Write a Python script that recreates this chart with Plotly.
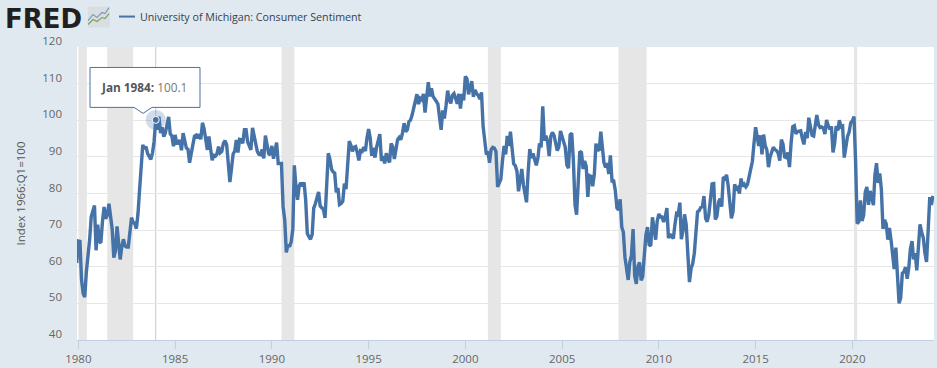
import pandas as pd
import plotly.graph_objects as go

W, H = 937, 368
SERIES_NAME = "University of Michigan: Consumer Sentiment"
Y_TITLE = "Index 1966:Q1=100"
START_MONTH = "1979-12-01"
SENTIMENT = [
    61.0,
    67.0,66.9,56.5,52.7,51.7,58.7,62.3,67.3,73.7,75.0,76.7,64.5,
    71.5,66.9,66.5,72.4,76.3,73.1,74.1,77.2,73.1,70.3,62.5,64.3,
    71.0,66.5,62.0,65.5,67.5,65.7,65.4,65.4,69.3,73.4,72.1,71.9,
    70.4,74.6,80.8,89.1,93.3,92.2,92.8,90.9,89.9,89.3,91.1,94.2,
    100.1,97.4,101.0,96.5,98.1,95.5,96.6,99.1,100.9,96.3,95.7,92.9,
    96.0,93.7,93.7,94.6,91.8,96.5,94.0,92.4,92.1,88.4,90.9,93.9,
    95.6,95.9,95.1,96.2,94.8,99.3,97.7,94.9,91.9,95.6,91.4,89.1,
    90.4,90.2,90.8,92.8,91.1,91.5,93.7,94.4,93.3,89.1,83.1,86.8,
    90.8,91.6,94.6,91.2,94.8,94.7,93.7,97.4,97.4,94.1,93.0,91.9,
    97.9,95.4,94.3,91.5,90.7,90.6,92.0,89.6,95.8,93.9,90.9,90.5,
    93.0,89.5,91.3,93.9,88.2,88.3,88.2,76.4,72.8,63.9,66.0,65.5,
    66.8,70.4,87.7,81.8,78.3,82.1,82.9,82.0,83.0,78.3,69.1,68.2,
    67.5,68.8,76.0,77.2,79.2,80.4,76.6,76.1,75.6,73.3,85.3,91.0,
    89.3,86.6,85.9,85.6,80.3,81.5,77.0,77.3,77.9,82.7,81.2,88.2,
    94.3,93.2,91.5,92.6,92.8,91.2,89.0,91.7,91.5,92.7,91.6,95.1,
    97.6,95.1,90.3,92.5,89.8,92.7,94.4,96.2,88.9,90.2,88.2,91.0,
    89.3,88.5,93.7,92.7,89.4,92.4,94.7,95.3,94.7,96.5,99.2,96.9,
    97.4,99.7,100.0,101.4,103.2,104.5,107.1,104.4,106.0,105.6,107.2,102.1,
    106.6,110.4,106.5,108.7,106.5,105.6,105.2,104.4,100.9,97.4,102.7,100.5,
    103.9,108.1,105.7,104.6,106.8,107.3,106.0,104.5,107.2,103.2,107.2,105.4,
    112.0,111.3,107.1,109.2,110.7,106.4,108.3,107.3,106.8,105.8,107.6,98.4,
    94.7,90.6,91.5,88.4,92.0,92.6,92.4,91.5,81.8,82.7,83.9,88.8,
    93.0,90.7,95.7,93.0,96.9,92.4,88.1,87.6,86.1,80.6,84.2,86.7,
    82.4,79.9,77.6,86.0,92.1,89.7,90.9,89.3,87.7,89.6,93.7,92.6,
    103.8,94.4,95.8,94.2,90.2,95.6,96.7,95.9,94.2,91.7,92.8,97.1,
    95.5,94.1,92.6,87.7,86.9,96.0,96.5,89.1,76.9,74.2,81.6,91.5,
    91.2,86.7,88.9,87.4,79.1,84.9,84.7,82.0,85.4,93.6,92.1,91.7,
    96.9,91.3,88.4,87.1,88.3,85.3,90.4,83.4,83.4,80.9,76.1,75.5,
    78.4,70.8,69.5,62.6,59.8,56.4,61.2,63.0,70.3,57.6,55.3,60.1,
    61.2,56.3,57.3,65.1,68.7,70.8,66.0,65.7,73.5,70.6,67.4,72.5,
    74.4,73.6,73.6,72.2,73.6,76.0,67.8,68.9,68.2,67.7,71.6,74.5,
    74.2,77.5,67.5,69.8,74.3,71.5,63.7,55.8,59.5,60.8,63.7,69.9,
    75.0,75.3,76.2,76.4,79.3,73.2,72.3,74.3,78.3,82.6,82.7,72.9,
    73.8,77.6,78.6,76.4,84.5,84.1,85.1,82.1,77.5,73.2,75.1,82.5,
    81.2,81.6,80.0,84.1,81.9,82.5,81.8,82.5,84.6,86.9,88.8,93.6,
    98.1,95.4,93.0,95.9,90.7,96.1,93.1,91.9,87.2,90.0,91.3,92.6,
    92.0,91.7,91.0,89.0,94.7,93.5,90.0,89.8,91.2,87.2,93.8,98.2,
    98.5,96.3,96.9,97.0,97.1,95.0,93.4,96.8,95.1,100.7,98.5,95.9,
    95.7,99.7,101.4,98.8,98.0,98.2,97.9,96.2,100.1,98.6,97.5,98.3,
    91.2,93.8,98.4,97.2,100.0,98.2,98.4,89.8,93.2,95.5,96.8,99.3,
    99.8,101.0,89.1,71.8,72.3,78.1,72.5,74.1,80.4,81.8,76.9,80.7,
    79.0,76.8,84.9,88.3,82.9,85.5,81.2,70.3,72.8,71.7,67.4,70.6,
    67.2,62.8,59.4,65.2,58.4,50.0,51.5,58.2,58.6,59.9,56.7,59.7,
    64.9,67.0,62.0,63.7,59.0,64.2,71.6,69.4,67.9,63.8,61.3,69.7,
    79.0,76.9,79.4,
]
RECESSIONS = [
    ("1980-01-05", "1980-06-10"), ("1981-07-01", "1982-11-01"),
    ("1990-07-01", "1991-03-01"), ("2001-03-01", "2001-11-01"),
    ("2007-12-01", "2009-05-15"), ("2020-02-01", "2020-04-01"),
]
HILITE_DATE = "1984-01-01"
HILITE_VALUE = 100.1
HILITE_LABEL = "Jan 1984"
Y_TICKS = [40, 50, 60, 70, 80, 90, 100, 110, 120]
X_TICKS = ["1980-01-01", "1985-01-01", "1990-01-01", "1995-01-01", "2000-01-01",
           "2005-01-01", "2010-01-01", "2015-01-01", "2020-01-01"]

dates = pd.date_range(START_MONTH, periods=len(SENTIMENT), freq="MS")
BG, BLUE, GRID, TXT = "#e1e9f0", "#4572a7", "#e6e6e6", "#666666"
FONT = "Open Sans"

L, R, T, B = 77, 934, 46.5, 340
def px(x): return (x - L) / (R - L)
def py(y): return (B - y) / (B - T)
def path(pts): return "M" + " L".join(f"{px(x):.5f},{py(y):.5f}" for x, y in pts)

fig = go.Figure()
fig.add_trace(go.Scatter(x=dates, y=SENTIMENT, mode="lines", name=SERIES_NAME, showlegend=False,
                         line=dict(color=BLUE, width=3.4, shape="linear"), hoverinfo="skip"))
fig.add_trace(go.Scatter(x=[HILITE_DATE], y=[HILITE_VALUE], mode="markers", showlegend=False,
                         marker=dict(size=20, color="rgba(69,114,167,0.25)"), hoverinfo="skip"))
fig.add_trace(go.Scatter(x=[HILITE_DATE], y=[HILITE_VALUE], mode="markers", showlegend=False,
                         marker=dict(size=7, color=BLUE, line=dict(color="white", width=1)), hoverinfo="skip"))

shapes = [dict(type="rect", xref="x", yref="paper", x0=a, x1=b, y0=0, y1=1,
               fillcolor=GRID, line_width=0, layer="below") for a, b in RECESSIONS]
shapes.append(dict(type="line", xref="x", yref="paper", x0=HILITE_DATE, x1=HILITE_DATE, y0=0, y1=1,
                   line=dict(color="#c8c8c8", width=1), layer="below"))
# tooltip box and pointer
shapes.append(dict(type="path", xref="paper", yref="paper", layer="above",
                   path=path([(90, 67), (200, 67), (200, 107), (152, 107), (143, 113), (134, 107), (90, 107)]) + " Z",
                   fillcolor="white", line=dict(color=BLUE, width=1)))
# legend swatch
shapes.append(dict(type="line", xref="paper", yref="paper", layer="above",
                   x0=px(119), x1=px(135), y0=py(16), y1=py(16), line=dict(color=BLUE, width=2)))
# FRED logo icon
shapes.append(dict(type="rect", xref="paper", yref="paper", layer="above",
                   x0=px(88), x1=px(110), y0=py(27), y1=py(6), fillcolor="#d9dee2", line_width=0))
shapes.append(dict(type="path", xref="paper", yref="paper", layer="above",
                   path=path([(88, 20), (93, 14), (97, 17), (102, 12), (105, 13), (109, 7)]),
                   line=dict(color="#7d9db8", width=1.2)))
shapes.append(dict(type="path", xref="paper", yref="paper", layer="above",
                   path=path([(88, 24), (93, 19), (97, 21), (102, 17), (105, 18), (109, 13)]),
                   line=dict(color="#7fa05a", width=1.2)))

annotations = [
    dict(xref="paper", yref="paper", x=px(143.5), y=py(87), xanchor="center", yanchor="middle",
         showarrow=False, text=f"<b>{HILITE_LABEL}:</b> <span style='color:#777777'>{HILITE_VALUE}</span>",
         font=dict(family=FONT, size=11.8, color="#555555")),
    dict(xref="paper", yref="paper", x=px(3), y=py(18), xanchor="left", yanchor="middle",
         showarrow=False, text="<b>FRED</b>",
         font=dict(family="DejaVu Sans", size=26, color="#231f20")),
    dict(xref="paper", yref="paper", x=px(138), y=py(16.5), xanchor="left", yanchor="middle",
         showarrow=False, text=SERIES_NAME,
         font=dict(family=FONT, size=10.7, color="#33424f")),
]

fig.update_layout(
    width=W, height=H, autosize=False,
    paper_bgcolor=BG, plot_bgcolor="white",
    margin=dict(l=L, r=W - R, t=T, b=H - B, pad=0),
    font=dict(family=FONT, size=12, color=TXT),
    showlegend=False,
    shapes=shapes, annotations=annotations,
    hovermode=False,
    xaxis=dict(range=["1979-12-07", "2024-03-21"], tickvals=X_TICKS, tickformat="%Y",
               ticks="outside", ticklen=8, tickwidth=1, tickcolor="#c0d0e0",
               showgrid=False, showline=True, linecolor="#c0d0e0", linewidth=1, zeroline=False,
               tickfont=dict(family=FONT, size=11.5, color=TXT)),
    yaxis=dict(range=[40, 120], tickvals=Y_TICKS, showgrid=True, gridcolor=GRID, gridwidth=1.4,
               zeroline=False, ticks="", showline=False, ticklabelshift=-6, ticklabelstandoff=14,
               title=dict(text=Y_TITLE, standoff=14, font=dict(family=FONT, size=11.5, color="#555555")),
               tickfont=dict(family=FONT, size=11.5, color=TXT)),
)
fig.write_html("out.html", config={"displayModeBar": False},
               post_script="document.body.style.margin='0';document.body.style.overflow='hidden';")
